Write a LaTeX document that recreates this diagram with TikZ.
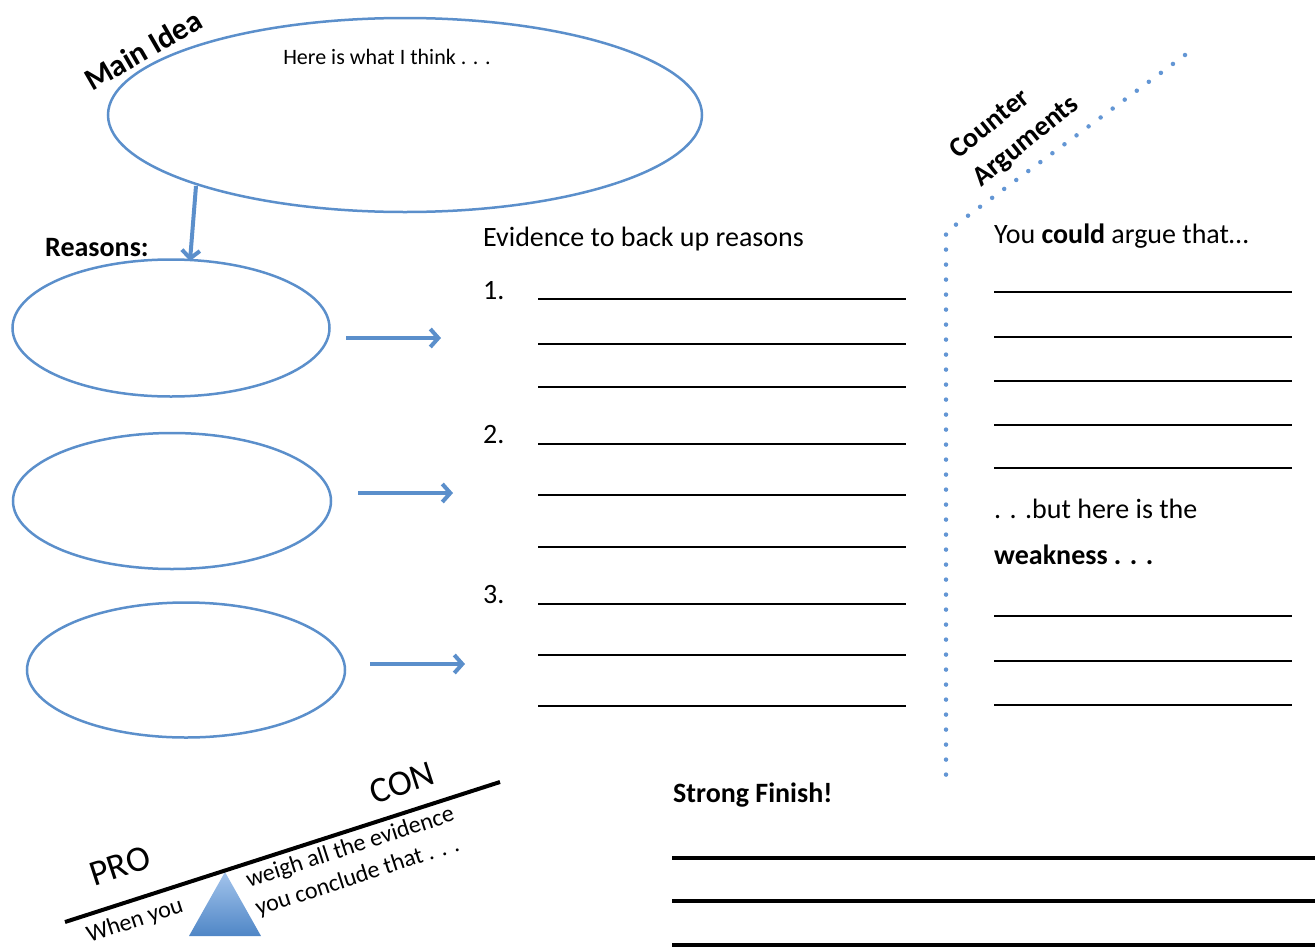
\documentclass[tikz,border=0pt]{standalone}
\usepackage{fontspec}
\setmainfont{Carlito}
\usetikzlibrary{shapes.geometric,arrows.meta}
\definecolor{bblue}{HTML}{5B8FCB}
\definecolor{dotblue}{HTML}{6396D4}
\definecolor{triTop}{HTML}{A3C4EC}
\definecolor{triBot}{HTML}{4F86C6}
\begin{document}
\begin{tikzpicture}[x=1pt,y=-1pt,
  bub/.style={ellipse, draw=bblue, line width=2.5pt, inner sep=0pt, fill=white},
  barrow/.style={draw=bblue, line width=4pt, -{Straight Barb[length=8pt,width=18pt]}},
  wline/.style={draw=black, line width=1.8pt},
  fline/.style={draw=black, line width=3.5pt},
  lbl/.style={inner sep=0pt, anchor=west, font=\fontsize{28}{34}\selectfont},
  blbl/.style={inner sep=0pt, anchor=west, font=\bfseries\fontsize{28}{34}\selectfont},
  tilt/.style={inner sep=0pt, rotate=18},
  dots/.style={draw=dotblue, line width=4.5pt, line cap=round, dash pattern=on 0pt off 15pt}]
\useasboundingbox (0,0) rectangle (1315,948);

% main idea
\node[bub, minimum width=594pt, minimum height=194pt] (main) at (405,115) {};
\node[inner sep=0pt, font=\fontsize{22}{26}\selectfont] (think) at (387,57) {Here is what I think . . .};
\node[inner sep=0pt, font=\bfseries\fontsize{31}{34}\selectfont, rotate=30] (mainlbl) at (143,50) {Main Idea};

% reasons
\node[blbl] (reasons) at (45,248) {Reasons:};
\node[bub, minimum width=317pt, minimum height=137pt] (r1) at (171,328) {};
\node[bub, minimum width=318pt, minimum height=136pt] (r2) at (172,501) {};
\node[bub, minimum width=318pt, minimum height=135pt] (r3) at (186,670) {};

\coordinate (mbot) at (196,186);
\coordinate (r1top) at (190,261);
\draw[barrow] (mbot) -- (r1top);

\coordinate (s1) at (346,338); \coordinate (t1) at (441,338);
\coordinate (s2) at (358,493); \coordinate (t2) at (453,493);
\coordinate (s3) at (370,664); \coordinate (t3) at (465,664);
\draw[barrow] (s1) -- (t1);
\draw[barrow] (s2) -- (t2);
\draw[barrow] (s3) -- (t3);

% evidence
\node[lbl] (evid) at (483,239) {Evidence to back up reasons};
\node[lbl] (n1) at (483,291) {1.};
\node[lbl] (n2) at (483,435) {2.};
\node[lbl] (n3) at (483,595) {3.};
\foreach \y in {299,344,387,444,495,547,604,655,706}
  \draw[wline] (538,\y) -- (906,\y);

% counter arguments
\coordinate (dtop) at (1185,55);
\coordinate (dcorn) at (946,232);
\coordinate (dbot) at (946,775);
\draw[dots] (dtop) -- (dcorn) -- (dbot);
\node[inner sep=0pt, rotate=39, align=left, font=\bfseries\fontsize{28}{36}\selectfont] (counter) at (1015,128) {Counter\\Arguments};

\node[lbl] (could) at (994,236) {You \textbf{could} argue that…};
\foreach \y in {292,337,381,425,468}
  \draw[wline] (994,\y) -- (1292,\y);
\node[lbl] (but) at (994,509) {. . .but here is the};
\node[blbl] (weak) at (994,555) {weakness . . .};
\foreach \y in {616,661,705}
  \draw[wline] (994,\y) -- (1292,\y);

% strong finish
\node[blbl] (finish) at (673,795) {Strong Finish!};
\foreach \y in {858,901,945}
  \draw[fline] (672,\y) -- (1315,\y);

% seesaw
\coordinate (sL) at (65,922);
\coordinate (sR) at (500,782);
\shade[top color=triTop, bottom color=triBot] (225,872) -- (261,936) -- (189,936) -- cycle;
\draw[line width=4pt] (sL) -- (sR);
\node[tilt, font=\fontsize{36}{40}\selectfont] (pro) at (120,866) {PRO};
\node[tilt, font=\fontsize{36}{40}\selectfont] (con) at (402,783) {CON};
\node[tilt, font=\fontsize{24}{28}\selectfont] (when) at (135,921) {When you};
\node[tilt, align=left, font=\fontsize{24}{30}\selectfont] (weigh) at (355,862) {weigh all the evidence\\you conclude that . . .};
\end{tikzpicture}
\end{document}
